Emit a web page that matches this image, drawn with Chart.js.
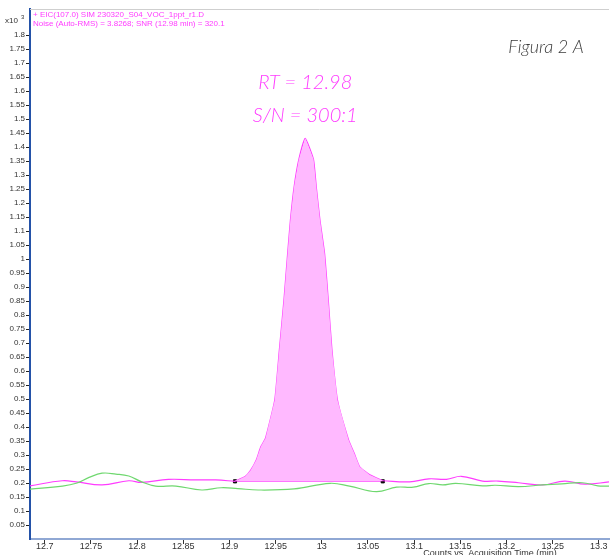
<!DOCTYPE html>
<html>
<head>
<meta charset="utf-8">
<script src="https://cdn.jsdelivr.net/npm/chart.js@4.4.0/dist/chart.umd.min.js"></script>
<style>
  html, body { margin:0; padding:0; background:#fff; }
  #wrap { width:614px; height:555px; position:relative; }
</style>
</head>
<body>
<div id="wrap"><canvas id="graf"></canvas></div>
<script>
var greenTime = [12.684,12.719,12.734,12.748,12.762,12.777,12.791,12.805,12.820,12.842,12.870,12.891,12.909,12.931,12.970,13.009,13.030,13.059,13.081,13.099,13.116,13.131,13.145,13.174,13.188,13.213,13.239,13.260,13.282,13.299,13.311];
var greenVal  = [0.178,0.189,0.199,0.220,0.235,0.232,0.225,0.204,0.189,0.189,0.175,0.183,0.180,0.175,0.179,0.199,0.189,0.169,0.185,0.185,0.198,0.193,0.199,0.190,0.192,0.187,0.193,0.197,0.201,0.190,0.189];

var preTime = [12.684,12.719,12.734,12.762,12.791,12.805,12.834,12.863,12.885,12.906];
var preVal  = [0.190,0.208,0.204,0.193,0.208,0.202,0.213,0.211,0.211,0.206];

var peakTime = [12.906,12.917,12.923,12.929,12.934,12.939,12.949,12.954,12.959,12.963,12.966,12.970,12.975,12.982,12.991,12.994,12.998,13.003,13.007,13.011,13.017,13.029,13.035,13.041,13.052,13.066];
var peakVal  = [0.206,0.223,0.246,0.282,0.330,0.360,0.496,0.675,0.854,1.020,1.139,1.258,1.354,1.431,1.356,1.258,1.139,1.020,0.854,0.675,0.496,0.354,0.307,0.258,0.229,0.208];

var postTime = [13.066,13.095,13.116,13.135,13.151,13.174,13.191,13.213,13.239,13.263,13.285,13.311];
var postVal  = [0.208,0.204,0.215,0.213,0.224,0.207,0.207,0.201,0.193,0.207,0.196,0.204];

var baseTime = [12.906,13.066];
var baseVal  = [0.206,0.206];

var xTicks = [12.7,12.75,12.8,12.85,12.9,12.95,13,13.05,13.1,13.15,13.2,13.25,13.3];
var yTicks = [0.05,0.1,0.15,0.2,0.25,0.3,0.35,0.4,0.45,0.5,0.55,0.6,0.65,0.7,0.75,0.8,0.85,0.9,0.95,1,1.05,1.1,1.15,1.2,1.25,1.3,1.35,1.4,1.45,1.5,1.55,1.6,1.65,1.7,1.75,1.8];

var rtTime = 12.982;

function pts(t, v) {
  return t.map(function(x, i) { return {x:x, y:v[i]}; });
}

var PINK = '#ff3cff';
var GREEN = '#6fd86f';

// textos e moldura desenhados por cima
var extras = {
  id:'extras',
  afterDraw:function(chart) {
    var c = chart.ctx, a = chart.chartArea;
    var xs = chart.scales.x, ys = chart.scales.y;
    c.save();
    c.strokeStyle = '#cfcfcf'; c.lineWidth = 1;
    c.beginPath(); c.moveTo(a.left, a.top + 0.5); c.lineTo(a.right, a.top + 0.5); c.stroke();

    c.fillStyle = PINK;
    c.font = '8px "Liberation Sans", Arial, sans-serif';
    c.textAlign = 'left'; c.textBaseline = 'middle';
    c.fillText('+ EIC(107.0) SIM 230320_S04_VOC_1ppt_r1.D', a.left + 3, 15);
    c.fillText('Noise (Auto-RMS) = 3.8268; SNR (12.98 min) = 320.1', a.left + 3, 24);

    c.fillStyle = '#333';
    c.fillText('x10', 5, 21);
    c.font = '6px "Liberation Sans", Arial, sans-serif';
    c.fillText('3', 21, 17);

    var px = xs.getPixelForValue(rtTime);
    c.fillStyle = PINK;
    c.font = 'italic 300 20px Lato, "Open Sans", sans-serif';
    c.textAlign = 'center';
    c.fillText('RT = 12.98', px, ys.getPixelForValue(1.632));
    c.fillText('S/N = 300:1', px, ys.getPixelForValue(1.514));

    c.fillStyle = '#3a3a3a';
    c.font = 'italic 300 18px Lato, "Open Sans", sans-serif';
    c.fillText('Figura 2 A', 546, 47);

    c.fillStyle = '#333';
    c.font = '9px "Liberation Sans", Arial, sans-serif';
    c.textBaseline = 'top';
    c.fillText('Counts vs. Acquisition Time (min)', 490, 549);
    c.restore();
  }
};

var graf = new Chart(document.getElementById('graf'), {
  type:'line',
  data:{
    datasets:[
      { // area do pico
        data:pts(peakTime, peakVal),
        borderWidth:0,
        pointRadius:0,
        backgroundColor:'#ffb9ff',
        fill:{value:baseVal[0]},
        tension:0
      },
      {
        data:pts(greenTime, greenVal),
        borderColor:GREEN,
        borderWidth:1.2,
        pointRadius:0,
        fill:false,
        tension:0.4
      },
      {
        data:pts(preTime, preVal),
        borderColor:PINK,
        borderWidth:1.2,
        pointRadius:0,
        fill:false,
        tension:0.4
      },
      {
        data:pts(peakTime, peakVal),
        borderColor:PINK,
        borderWidth:1.2,
        pointRadius:0,
        fill:false,
        tension:0.15
      },
      {
        data:pts(postTime, postVal),
        borderColor:PINK,
        borderWidth:1.2,
        pointRadius:0,
        fill:false,
        tension:0.4
      },
      { // linha de base da integracao
        data:pts(baseTime, baseVal),
        borderColor:PINK,
        borderWidth:1,
        pointStyle:'rect',
        pointRadius:2.2,
        pointBackgroundColor:'#000',
        pointBorderColor:'#000',
        fill:false
      }
    ]
  },
  options:{
    responsive:true,
    maintainAspectRatio:false,
    animation:false,
    layout:{ padding:{ top:9, right:0, left:0, bottom:0 } },
    plugins:{ legend:{display:false}, tooltip:{enabled:false} },
    scales:{
      x:{
        type:'linear',
        min:12.684, max:13.311,
        afterBuildTicks:function(s){ s.ticks = xTicks.map(function(v){ return {value:v}; }); },
        afterFit:function(s){ s.height = 16; },
        ticks:{
          color:'#333',
          font:{ size:9, family:'"Liberation Sans", Arial, sans-serif' },
          padding:-3,
          maxRotation:0,
          autoSkip:false,
          callback:function(v){ return String(+v.toFixed(2)); }
        },
        grid:{ drawOnChartArea:false, drawTicks:true, tickLength:5, color:'#333' },
        border:{ color:'#90a8d4', width:2 }
      },
      y:{
        type:'linear',
        min:0, max:1.893,
        afterBuildTicks:function(s){ s.ticks = yTicks.map(function(v){ return {value:v}; }); },
        afterFit:function(s){ s.width = 30; },
        ticks:{
          color:'#333',
          font:{ size:8, family:'"Liberation Sans", Arial, sans-serif' },
          padding:1,
          autoSkip:false,
          callback:function(v){ return String(+v.toFixed(2)); }
        },
        grid:{ drawOnChartArea:false, drawTicks:true, tickLength:4, color:'#222' },
        border:{ color:'#2452a8', width:2 }
      }
    }
  },
  plugins:[extras]
});
</script>
</body>
</html>
